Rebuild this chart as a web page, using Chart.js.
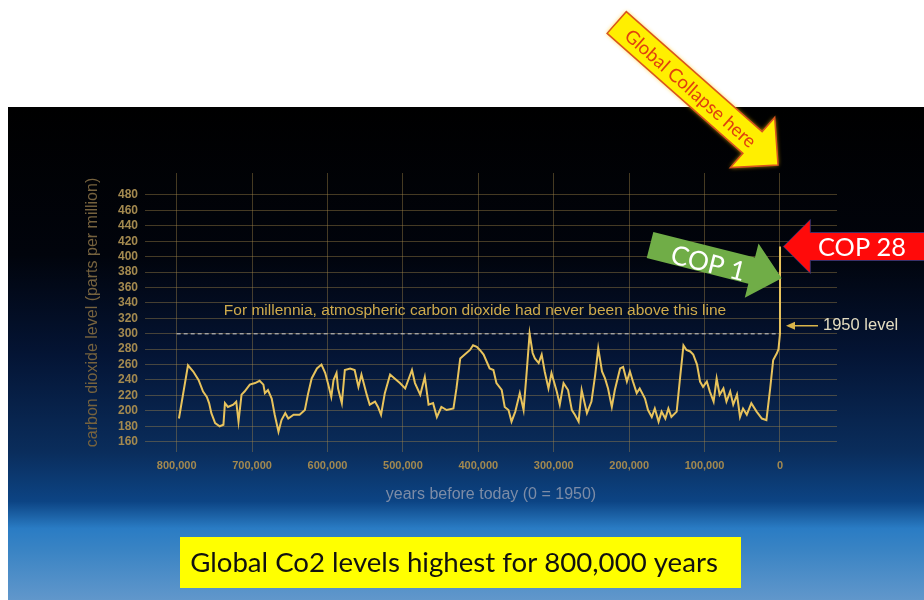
<!DOCTYPE html>
<html>
<head>
<meta charset="utf-8">
<script src="https://cdn.jsdelivr.net/npm/chart.js@4.4.1/dist/chart.umd.min.js"></script>
<style>
  html, body { margin: 0; padding: 0; background: #fff; }
  #co2 { display: block; }
</style>
</head>
<body>
<canvas id="co2" width="924" height="600"></canvas>
<script>
'use strict'

// years before 1950 (oldest first)
const yearsBP = [
	797000, 785000, 778000, 771000, 765000, 760000, 757000, 754000, 749000, 743000,
	738000, 736000, 732000, 725000, 721000, 718000, 714000, 710000, 703000, 696000,
	690000, 685000, 683000, 679000, 674000, 670000, 665000, 661000, 656000, 652000,
	645000, 637000, 630000, 626000, 621000, 614000, 608000, 603000, 599000, 595000,
	592000, 588000, 586000, 581000, 577000, 570000, 564000, 559000, 555000, 548000,
	544000, 537000, 533000, 529000, 524000, 517000, 511000, 504000, 497000, 488000,
	484000, 477000, 471000, 466000, 460000, 455000, 449000, 442000, 433000, 429000,
	424000, 418000, 411000, 407000, 402000, 398000, 393000, 389000, 385000, 380000,
	376000, 369000, 365000, 360000, 356000, 351000, 345000, 340000, 336000, 332000,
	328000, 325000, 320000, 316000, 312000, 307000, 303000, 296000, 292000, 287000,
	281000, 276000, 272000, 267000, 263000, 256000, 250000, 245000, 241000, 236000,
	232000, 228000, 223000, 219000, 212000, 208000, 203000, 199000, 195000, 190000,
	186000, 179000, 175000, 170000, 166000, 161000, 157000, 152000, 148000, 144000,
	137000, 133000, 128000, 124000, 119000, 115000, 110000, 106000, 102000, 97000,
	93000, 88000, 84000, 80000, 75000, 71000, 66000, 62000, 57000, 53000,
	49000, 44000, 38000, 31000, 24000, 18000, 13000, 9000, 4000, 2000,
	0, -70
];
const co2ppm = [
	190, 259, 251, 240, 225, 218, 210, 197, 184, 180,
	182, 210, 205, 208, 212, 186, 221, 225, 234, 236,
	239, 234, 223, 227, 216, 195, 173, 188, 197, 190,
	195, 195, 201, 221, 242, 255, 260, 249, 234, 218,
	240, 249, 229, 210, 253, 255, 253, 231, 247, 221,
	208, 212, 205, 195, 223, 247, 242, 236, 229, 253,
	236, 221, 244, 208, 210, 192, 205, 201, 203, 229,
	268, 273, 279, 285, 283, 279, 273, 264, 255, 253,
	236, 227, 205, 201, 186, 199, 223, 201, 249, 300,
	275, 268, 262, 273, 251, 229, 249, 225, 208, 236,
	227, 201, 195, 186, 227, 197, 212, 247, 281, 251,
	242, 229, 205, 227, 255, 257, 238, 251, 238, 223,
	229, 216, 201, 192, 203, 186, 199, 190, 203, 192,
	199, 238, 285, 279, 277, 273, 260, 238, 231, 238,
	225, 212, 242, 221, 229, 212, 225, 208, 221, 192,
	203, 195, 210, 199, 190, 188, 229, 266, 275, 280,
	300, 413
];

// "never above this line"
const thresholdYears = [800000, 0];
const thresholdPpm = [300, 300];
const level1950 = 311;

const xTicks = [800000, 700000, 600000, 500000, 400000, 300000, 200000, 100000, 0];
const yTicks = [160, 180, 200, 220, 240, 260, 280, 300, 320, 340, 360, 380, 400, 420, 440, 460, 480];

const gold = '#a3894f';
const gridColor = 'rgba(165, 135, 75, 0.42)';
const sans = '"Liberation Sans", Arial, sans-serif';

function arrow(ctx, x0, y0, x1, y1, o) {
	const a = Math.atan2(y1 - y0, x1 - x0);
	const len = Math.hypot(x1 - x0, y1 - y0);
	const sw = o.shaft / 2, hw = o.head / 2, hl = o.headLen;
	ctx.save();
	ctx.translate(x0, y0);
	ctx.rotate(a);
	ctx.beginPath();
	ctx.moveTo(0, -sw);
	ctx.lineTo(len - hl, -sw);
	ctx.lineTo(len - hl, -hw);
	ctx.lineTo(len, 0);
	ctx.lineTo(len - hl, hw);
	ctx.lineTo(len - hl, sw);
	ctx.lineTo(0, sw);
	ctx.closePath();
	if (o.glow) {
		ctx.shadowColor = o.glow;
		ctx.shadowBlur = 4;
	}
	ctx.fillStyle = o.fill;
	ctx.fill();
	ctx.shadowBlur = 0;
	if (o.stroke) {
		ctx.lineWidth = o.strokeWidth || 1;
		ctx.strokeStyle = o.stroke;
		ctx.stroke();
	}
	if (o.text) {
		let size = 40;
		ctx.font = size + 'px ' + o.family;
		size = size * o.textWidth / ctx.measureText(o.text).width;
		ctx.font = size + 'px ' + o.family;
		ctx.fillStyle = o.textColor;
		ctx.textAlign = 'center';
		ctx.textBaseline = 'middle';
		ctx.translate(o.textAt, o.textOff || 0);
		if (o.flip) ctx.rotate(Math.PI);
		ctx.fillText(o.text, 0, 1);
	}
	ctx.restore();
}

const backdrop = {
	id: 'backdrop',
	beforeDraw(chart) {
		const { ctx } = chart;
		ctx.save();
		ctx.fillStyle = '#fff';
		ctx.fillRect(0, 0, 924, 600);
		const g = ctx.createLinearGradient(0, 107, 0, 600);
		g.addColorStop(0, '#000000');
		g.addColorStop(0.30, '#01040c');
		g.addColorStop(0.50, '#041434');
		g.addColorStop(0.70, '#0a2d5c');
		g.addColorStop(0.80, '#0c4484');
		g.addColorStop(0.855, '#2a7cc4');
		g.addColorStop(0.90, '#3a84c4');
		g.addColorStop(1, '#6197cb');
		ctx.fillStyle = g;
		ctx.fillRect(8, 107, 916, 493);
		ctx.restore();
	},
};

const notes = {
	id: 'notes',
	afterDraw(chart) {
		const { ctx, scales: { x, y } } = chart;
		ctx.save();

		// line label
		ctx.font = '15.5px ' + sans;
		ctx.fillStyle = '#cfab4c';
		ctx.textAlign = 'center';
		ctx.textBaseline = 'middle';
		ctx.fillText('For millennia, atmospheric carbon dioxide had never been above this line', 475, 311);

		// 1950 level
		const ly = y.getPixelForValue(level1950) + 0.5;
		ctx.strokeStyle = '#d9b44a';
		ctx.fillStyle = '#d9b44a';
		ctx.lineWidth = 1.5;
		ctx.beginPath();
		ctx.moveTo(818, ly);
		ctx.lineTo(790, ly);
		ctx.stroke();
		ctx.beginPath();
		ctx.moveTo(786, ly);
		ctx.lineTo(795, ly - 4);
		ctx.lineTo(795, ly + 4);
		ctx.closePath();
		ctx.fill();
		ctx.font = '16.5px ' + sans;
		ctx.fillStyle = '#e3dcc0';
		ctx.textAlign = 'left';
		ctx.fillText('1950 level', 823, ly);

		const fam = 'Lato, "Open Sans", sans-serif';

		arrow(ctx, 616.7, 22.5, 778, 165, {
			shaft: 29, head: 67, headLen: 34,
			fill: '#ffef00', stroke: '#d9541e', strokeWidth: 1.5, glow: 'rgba(255,200,0,0.9)',
			text: 'Global Collapse here', textColor: '#e0400e', family: fam, textWidth: 168, textAt: 99,
		});

		arrow(ctx, 650, 245, 781.7, 278.3, {
			shaft: 27, head: 56, headLen: 31,
			fill: '#70ad47',
			text: 'COP 1', textColor: '#ffffff', family: fam, textWidth: 76, textAt: 61, textOff: 3,
		});

		arrow(ctx, 930, 246.5, 783.3, 246.5, {
			shaft: 28, head: 54, headLen: 27,
			fill: '#ff0a0a', stroke: 'rgba(40,60,130,0.8)', strokeWidth: 1,
			text: 'COP 28', textColor: '#ffffff', family: fam, textWidth: 88, textAt: 68, flip: true,
		});

		// caption box
		ctx.fillStyle = '#ffff00';
		ctx.fillRect(180, 537, 561, 51);
		let size = 40;
		const cap = 'Global Co2 levels highest for 800,000 years';
		ctx.font = size + 'px ' + fam;
		size = size * 528 / ctx.measureText(cap).width;
		ctx.font = size + 'px ' + fam;
		ctx.fillStyle = '#111';
		ctx.textAlign = 'center';
		ctx.textBaseline = 'middle';
		ctx.fillText(cap, 454, 563);

		ctx.restore();
	},
};

new Chart(document.getElementById('co2'), {
	type: 'line',
	data: {
		datasets: [
			{
				data: yearsBP.map((v, i) => ({ x: v, y: co2ppm[i] })),
				borderColor: '#e8c35c',
				borderWidth: 2,
				pointRadius: 0,
				tension: 0,
				order: 0,
			},
			{
				data: thresholdYears.map((v, i) => ({ x: v, y: thresholdPpm[i] })),
				borderColor: 'rgba(195, 195, 195, 0.75)',
				borderWidth: 1.5,
				borderDash: [4, 3],
				pointRadius: 0,
				order: 1,
			},
		],
	},
	options: {
		responsive: false,
		animation: false,
		events: [],
		layout: {
			padding: { left: 83, right: 87, top: 173, bottom: 90 },
		},
		plugins: {
			legend: { display: false },
			tooltip: { enabled: false },
		},
		scales: {
			x: {
				type: 'linear',
				reverse: true,
				min: -75600,
				max: 842000,
				afterBuildTicks: (scale) => { scale.ticks = xTicks.map(v => ({ value: v })); },
				afterFit: (scale) => { scale.height = 58; },
				border: { display: false },
				grid: { color: gridColor, drawTicks: false },
				ticks: {
					padding: 7,
					color: gold,
					font: { family: sans, size: 11, weight: 'bold' },
					callback: (v) => v.toLocaleString('en-US'),
				},
				title: {
					display: true,
					text: 'years before today (0 = 1950)',
					color: '#7d8ca6',
					font: { family: sans, size: 16 },
					padding: { top: 0, bottom: 5.5 },
				},
			},
			y: {
				min: 146.6,
				max: 508.5,
				afterBuildTicks: (scale) => { scale.ticks = yTicks.map(v => ({ value: v })); },
				afterFit: (scale) => { scale.width = 62; },
				border: { display: false },
				grid: { color: gridColor, drawTicks: false },
				ticks: {
					padding: 7,
					color: gold,
					font: { family: sans, size: 12, weight: 'bold' },
				},
				title: {
					display: true,
					text: 'carbon dioxide level (parts per million)',
					color: '#76623e',
					font: { family: sans, size: 16 },
					padding: { top: 0, bottom: 0 },
				},
			},
		},
	},
	plugins: [backdrop, notes],
});
</script>
</body>
</html>
